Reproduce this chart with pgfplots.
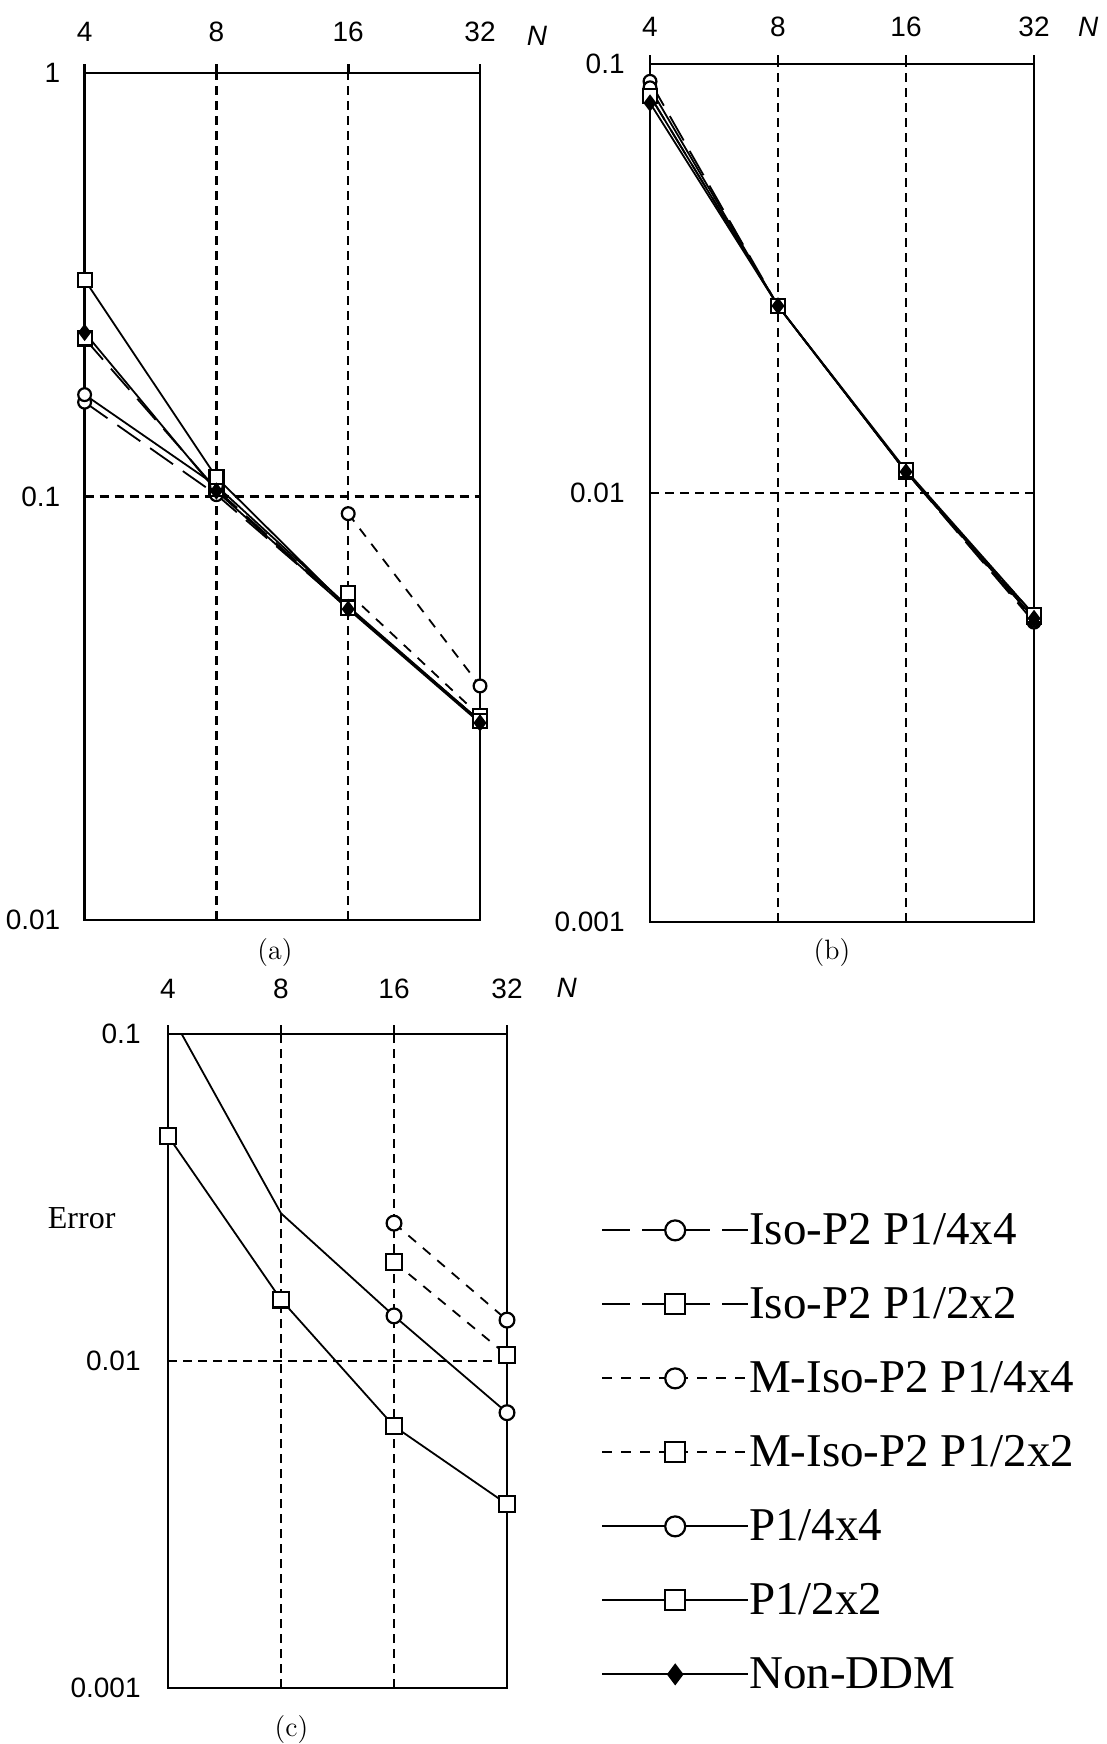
\documentclass[border=0pt]{standalone}
\usepackage{fontspec}
\usepackage{pgfplots}
\pgfplotsset{compat=1.18}
\newfontfamily\sansf{Liberation Sans}
\newfontfamily\seriff{Liberation Serif}
\newcommand\tickfont{\sansf\fontsize{14}{16}\selectfont}

\pgfplotsset{
  errpanel/.style={
    xmin=4, xmax=32,
    xtick={4,8,16,32}, xticklabels={4,8,16,32},
    xtick pos=upper, xticklabel pos=upper,
    tick align=outside, major tick length=4.5pt,
    xtick style={black, line width=1.4pt},
    ytick style={draw=none},
    minor tick style={draw=none},
    grid=major,
    major grid style={black, line width=1.1pt, dash pattern=on 4.5pt off 3pt},
    axis line style={black, line width=1.4pt},
    tick label style={font=\tickfont, inner sep=0pt},
    xticklabel style={anchor=center},
    yticklabel style={anchor=east},
    xlabel={\textit{N}},
    xlabel style={font=\tickfont, anchor=center},
  },
  sbase/.style={black, line width=0.9pt, mark options={solid, fill=white, line width=1.1pt}},
  siso4/.style={sbase, dash pattern=on 14pt off 6pt, mark=*, mark size=3.2pt},
  siso2/.style={sbase, dash pattern=on 14pt off 6pt, mark=square*, mark size=3.5pt},
  smiso4/.style={sbase, dash pattern=on 5pt off 4.5pt, mark=*, mark size=3.2pt},
  smiso2/.style={sbase, dash pattern=on 5pt off 4.5pt, mark=square*, mark size=3.5pt},
  spone4/.style={sbase, solid, mark=*, mark size=3.2pt},
  spone2/.style={sbase, solid, mark=square*, mark size=3.5pt},
  snonddm/.style={black, line width=0.9pt, solid, mark=diamond*, mark size=3.6pt, mark options={solid, fill=black}},
}

\begin{document}
\begin{tikzpicture}
\path[use as bounding box] (0,0) rectangle (553.5pt,872pt);

% (a)
\begin{axis}[
  xmode=log, ymode=log, log basis x=2, scale only axis,
  errpanel,
  /pgf/number format/assume math mode=true,
  at={(42.3pt,412pt)}, anchor=south west,
  width=197.7pt, height=423.5pt,
  ymin=0.01, ymax=1,
  ytick={0.01,0.1,1}, yticklabels={0.01,0.1,1},
  xticklabel shift=16pt, yticklabel shift=7.5pt,
  xlabel style={at={(axis description cs:1.144,1.044)}},
]
\addplot[siso4] coordinates {(4,0.167) (8,0.101) (16,0.0545) (32,0.0295)};
\addplot[siso2] coordinates {(4,0.236) (8,0.104) (16,0.0545) (32,0.0295)};
\addplot[smiso4] coordinates {(16,0.0911) (32,0.0357)};
\addplot[smiso2] coordinates {(16,0.0592) (32,0.0303)};
\addplot[spone4] coordinates {(4,0.174) (8,0.106) (16,0.0550) (32,0.0295)};
\addplot[spone2] coordinates {(4,0.325) (8,0.111) (16,0.0545) (32,0.0295)};
\addplot[snonddm] coordinates {(4,0.244) (8,0.103) (16,0.0542) (32,0.0292)};
\end{axis}

% (b)
\begin{axis}[
  xmode=log, ymode=log, log basis x=2, scale only axis,
  errpanel,
  /pgf/number format/assume math mode=true,
  at={(325pt,411pt)}, anchor=south west,
  width=192pt, height=429pt,
  ymin=0.001, ymax=0.1,
  ytick={0.001,0.01,0.1}, yticklabels={0.001,0.01,0.1},
  xticklabel shift=14pt, yticklabel shift=8pt,
  xlabel style={at={(axis description cs:1.141,1.043)}},
]
\addplot[siso4] coordinates {(4,0.0911) (8,0.0273) (16,0.0112) (32,0.00500)};
\addplot[siso2] coordinates {(4,0.0843) (8,0.0273) (16,0.0112) (32,0.00514)};
\addplot[smiso4] coordinates {(16,0.0112) (32,0.00505)};
\addplot[smiso2] coordinates {(16,0.0112) (32,0.00520)};
\addplot[spone4] coordinates {(4,0.0880) (8,0.0273) (16,0.0112) (32,0.00510)};
\addplot[spone2] coordinates {(4,0.0843) (8,0.0273) (16,0.0113) (32,0.00520)};
\addplot[snonddm] coordinates {(4,0.0811) (8,0.0273) (16,0.0112) (32,0.00510)};
\end{axis}

% (c)
\begin{axis}[
  xmode=log, ymode=log, log basis x=2, scale only axis,
  errpanel,
  /pgf/number format/assume math mode=true,
  at={(84pt,28pt)}, anchor=south west,
  width=169.5pt, height=327pt,
  ymin=0.001, ymax=0.1,
  ytick={0.001,0.01,0.1}, yticklabels={0.001,0.01,0.1},
  xticklabel shift=18pt, yticklabel shift=9pt,
  xlabel style={at={(axis description cs:1.176,1.070)}},
  ylabel={Error},
  ylabel style={at={(axis description cs:-0.2546,0.7187)}, anchor=center, rotate=-90,
    font=\seriff\fontsize{16}{18}\selectfont},
  legend image code/.code={\draw[mark repeat=2,mark phase=2]
    plot coordinates {(0pt,0pt) (36.5pt,0pt) (73pt,0pt)};},
  legend style={draw=none, fill=none, at={(axis description cs:1.277,0.734)},
    anchor=north west, inner sep=0pt, row sep=15pt,
    font=\seriff\fontsize{23.5}{28}\selectfont,
    nodes={inner sep=0pt, text height=18pt, text depth=4pt},
    cells={anchor=west},
    /tikz/every even column/.append style={column sep=0pt}},
]
\addlegendimage{siso4, mark size=5pt}
\addlegendimage{siso2, mark size=5pt}
\addlegendimage{smiso4, mark size=5pt}
\addlegendimage{smiso2, mark size=5pt}
\addlegendimage{spone4, mark size=5pt}
\addlegendimage{spone2, mark size=5pt}
\addlegendimage{snonddm, mark size=4.8pt}
\addplot[smiso4, mark size=3.7pt, forget plot] coordinates {(16,0.0264) (32,0.01334)};
\addplot[smiso2, mark size=3.9pt, forget plot] coordinates {(16,0.0201) (32,0.01042)};
\addplot[spone4, mark size=3.7pt, mark indices={2,3,4}, forget plot] coordinates {(4,0.119) (8,0.0283) (16,0.01374) (32,0.00695)};
\addplot[spone2, mark size=3.9pt, forget plot] coordinates {(4,0.0488) (8,0.0154) (16,0.00632) (32,0.00365)};
\legend{Iso-P2 P1/4x4, Iso-P2 P1/2x2, M-Iso-P2 P1/4x4, M-Iso-P2 P1/2x2, P1/4x4, P1/2x2, Non-DDM}
\end{axis}

\node[font=\fontsize{14}{16}\selectfont] at (137.5pt,395.5pt) {(a)};
\node[font=\fontsize{14}{16}\selectfont] at (416pt,395.5pt) {(b)};
\node[font=\fontsize{14}{16}\selectfont] at (145.75pt,7pt) {(c)};
\end{tikzpicture}
\end{document}
